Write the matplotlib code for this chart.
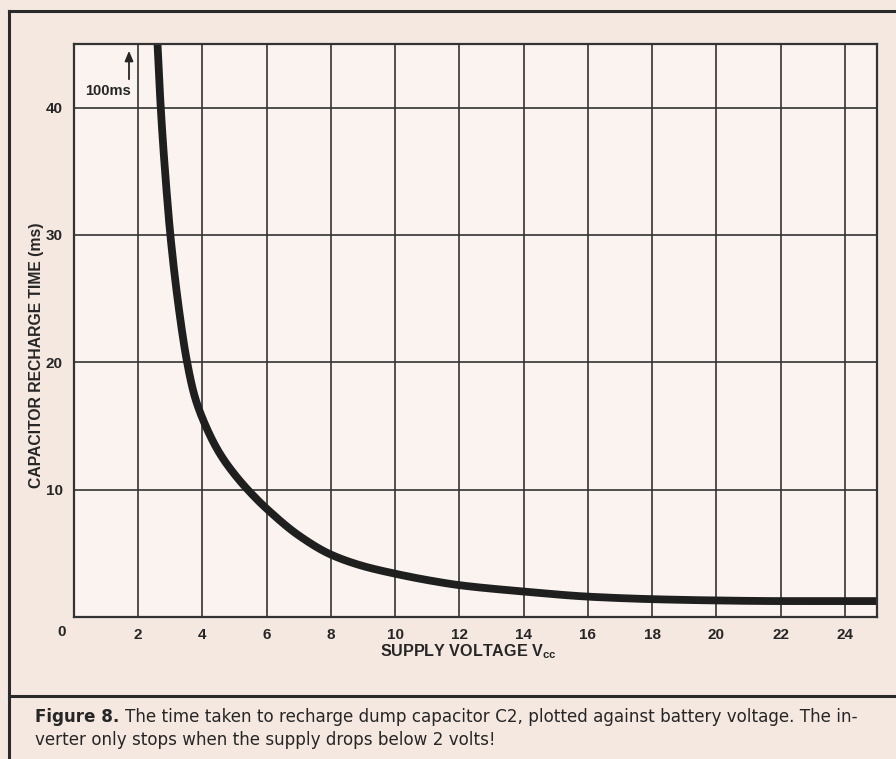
import matplotlib
matplotlib.use("Agg")
import matplotlib.pyplot as plt
import numpy as np

# Data
voltage = [2.6, 2.7, 2.85, 3.0, 3.25, 3.5, 3.75, 4.0, 4.5, 5.0, 5.5, 6.0, 7.0, 8.0, 9.0,
           10.0, 11.0, 12.0, 14.0, 16.0, 18.0, 20.0, 22.0, 25.0]
recharge_ms = [45.0, 40.0, 34.5, 30.0, 24.5, 20.3, 17.4, 15.6, 13.0, 11.2, 9.75, 8.5, 6.4, 4.9, 4.0,
               3.4, 2.9, 2.5, 2.0, 1.6, 1.4, 1.3, 1.25, 1.25]
x_ticks = [2, 4, 6, 8, 10, 12, 14, 16, 18, 20, 22, 24]
y_ticks = [10, 20, 30, 40]

plt.rcParams['font.family'] = ['Liberation Sans', 'DejaVu Sans']
plt.rcParams['font.stretch'] = 'normal'

paper = "#f5e8e0"
ink = "#262626"

fig = plt.figure(figsize=(8.96, 7.59), dpi=100, facecolor=paper)
W, H = 896, 759
def fx(px): return px / W
def fy(py): return 1 - py / H

ax = fig.add_axes([fx(74), fy(617), fx(877) - fx(74), fy(44) - fy(617)])
ax.set_facecolor("#faf3ef")
ax.set_xlim(0, 25)
ax.set_ylim(0, 45)
ax.set_xticks(x_ticks)
ax.set_yticks(y_ticks)
ax.tick_params(length=0, labelsize=11, colors=ink, pad=8)
for lab in ax.get_xticklabels() + ax.get_yticklabels():
    lab.set_fontweight('bold')
ax.grid(True, color="#333333", linewidth=1.2)
for s in ax.spines.values():
    s.set_color("#333333")
    s.set_linewidth(1.6)

# smooth monotone cubic (Fritsch-Carlson) through the read points
xs = np.array(voltage, dtype=float)
ys = np.array(recharge_ms, dtype=float)
h = np.diff(xs); d = np.diff(ys) / h
m = np.zeros_like(xs)
m[0], m[-1] = d[0], d[-1]
for i in range(1, len(xs) - 1):
    if d[i-1] * d[i] <= 0:
        m[i] = 0
    else:
        w1 = 2*h[i] + h[i-1]; w2 = h[i] + 2*h[i-1]
        m[i] = (w1 + w2) / (w1/d[i-1] + w2/d[i])
xx = np.linspace(xs[0], xs[-1], 800)
idx = np.clip(np.searchsorted(xs, xx) - 1, 0, len(xs) - 2)
t = (xx - xs[idx]) / h[idx]
h00 = 2*t**3 - 3*t**2 + 1; h10 = t**3 - 2*t**2 + t
h01 = -2*t**3 + 3*t**2; h11 = t**3 - t**2
yy = h00*ys[idx] + h10*h[idx]*m[idx] + h01*ys[idx+1] + h11*h[idx]*m[idx+1]
ax.plot(xx, yy, color="#1f1f1f", linewidth=5.6, solid_capstyle='butt', solid_joinstyle='round')

# "0" label at origin
fig.text(fx(62), fy(632), "0", ha='center', va='center', fontsize=11, fontweight='bold', color=ink)

# 100ms annotation
fig.text(fx(108), fy(91), "100ms", ha='center', va='center', fontsize=10.5, fontweight='bold', color=ink)
fig.add_artist(matplotlib.patches.FancyArrowPatch((fx(129), fy(82)), (fx(129), fy(48)),
               transform=fig.transFigure, arrowstyle='-|>,head_length=6,head_width=2.5',
               color=ink, linewidth=1.3))

# axis labels
fig.text(fx(380), fy(652), r"SUPPLY VOLTAGE V$_{\mathregular{cc}}$", ha='left', va='center',
         fontsize=11.6, fontweight='bold', color=ink)
fig.text(fx(36), fy(355), "CAPACITOR RECHARGE TIME (ms)", rotation=90, ha='center', va='center',
         fontsize=11.3, fontweight='bold', color=ink)

# frame lines
frame_kw = dict(color="#2a2a2a", linewidth=2.2, transform=fig.transFigure)
fig.add_artist(matplotlib.lines.Line2D([fx(9), 1.0], [fy(11), fy(11)], **frame_kw))
fig.add_artist(matplotlib.lines.Line2D([fx(9), fx(9)], [fy(11), 0], **frame_kw))
fig.add_artist(matplotlib.lines.Line2D([fx(9), 1.0], [fy(696), fy(696)], **frame_kw))

# caption (sized so the first line spans the same width as in the reference)
cap_fam = ['DejaVu Sans']
line1_rest = "The time taken to recharge dump capacitor C2, plotted against battery voltage. The in-"
line2 = "verter only stops when the supply drops below 2 volts!"
renderer = fig.canvas.get_renderer()
fs = 11.0
t_bold = fig.text(fx(35), fy(717), "Figure 8. ", ha='left', va='center', fontsize=fs,
                  fontweight='bold', family=cap_fam, color=ink)
t_rest = fig.text(0, fy(717), line1_rest, ha='left', va='center', fontsize=fs,
                  family=cap_fam, color=ink)
target = 858 - 35
for _ in range(3):
    wb = t_bold.get_window_extent(renderer).width
    wr = t_rest.get_window_extent(renderer).width
    fs = fs * target / (wb + wr)
    t_bold.set_fontsize(fs); t_rest.set_fontsize(fs)
wb = t_bold.get_window_extent(renderer).width
t_rest.set_x(fx(35) + wb / W)
fig.text(fx(35), fy(740), line2, ha='left', va='center', fontsize=fs, family=cap_fam, color=ink)

fig.savefig("out.png", dpi=100, facecolor=paper)
